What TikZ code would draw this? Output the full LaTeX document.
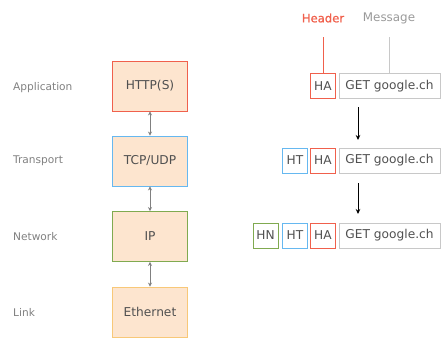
\documentclass[tikz,border=0pt]{standalone}
\usepackage{fontspec}
\setmainfont{DejaVu Sans}
\newfontfamily\hdrfont[FakeBold=1.2]{DejaVu Sans}
\usetikzlibrary{arrows.meta}
\definecolor{fillc}{HTML}{FDE5CF}
\definecolor{redc}{HTML}{F0604C}
\definecolor{bluec}{HTML}{66B8F0}
\definecolor{greenc}{HTML}{80AA50}
\definecolor{orangec}{HTML}{F8C878}
\definecolor{txt}{HTML}{505050}
\definecolor{lbl}{HTML}{808080}
\definecolor{msgc}{HTML}{C8C8C8}
\tikzset{
  layer/.style={draw=#1, fill=fillc, line width=0.9pt, minimum width=75pt, minimum height=50pt, inner sep=0pt, text=txt, font=\fontsize{12.2}{14}\selectfont},
  lname/.style={anchor=west, text=lbl, font=\fontsize{10.6}{12}\selectfont, inner sep=0pt},
  hdr/.style={draw=#1, line width=0.9pt, minimum width=25pt, minimum height=25pt, inner sep=0pt, text=txt, font=\fontsize{12.2}{14}\selectfont},
  msg/.style={draw=msgc, line width=0.9pt, minimum width=101pt, minimum height=25pt, inner sep=0pt, text=txt, font=\fontsize{12.2}{14}\selectfont},
  dbl/.style={{Stealth[length=4pt,width=4pt]}-{Stealth[length=4pt,width=4pt]}, draw=gray, line width=0.8pt},
  down/.style={-{Stealth[length=5pt,width=4.5pt]}, draw=black, line width=0.8pt}
}
\begin{document}
\begin{tikzpicture}[x=1pt,y=-1pt]
\useasboundingbox (0,0) rectangle (441,338);
% layers
\node[layer=redc] (http) at (150,86) {HTTP(S)};
\node[layer=bluec] (tcp) at (150,161) {TCP/UDP};
\node[layer=greenc] (ip) at (150,236.5) {IP};
\node[layer=orangec] (eth) at (150,312) {Ethernet};
\draw[dbl] (http.south) -- (tcp.north);
\draw[dbl] (tcp.south) -- (ip.north);
\draw[dbl] (ip.south) -- (eth.north);
% layer names
\node[lname] (l1) at (13,88) {Application};
\node[lname] (l2) at (13,161) {Transport};
\node[lname] (l3) at (13,237) {Network};
\node[lname] (l4) at (13,312) {Link};
% row 1
\node[hdr=redc] (ha1) at (323,86) {HA};
\node[msg] (m1) at (389.5,86) {GET google.ch};
% row 2
\node[hdr=bluec] (ht2) at (295,160.5) {HT};
\node[hdr=redc] (ha2) at (323,160.5) {HA};
\node[msg] (m2) at (389.5,160.5) {GET google.ch};
% row 3
\node[hdr=greenc] (hn3) at (265.5,235.5) {HN};
\node[hdr=bluec] (ht3) at (295,235.5) {HT};
\node[hdr=redc] (ha3) at (323,235.5) {HA};
\node[msg] (m3) at (389.5,235.5) {GET google.ch};
% titles
\node[text=redc, font=\hdrfont\fontsize{11.6}{13}\selectfont, inner sep=1pt] (hdrl) at (323,18) {Header};
\node[text=lbl!80, font=\fontsize{11.9}{13}\selectfont, inner sep=1pt] (msgl) at (389,18) {Message};
\coordinate (hl) at (323,37);
\coordinate (ml) at (389,37);
\draw[redc, line width=0.9pt] (hl) -- (ha1.north);
\draw[msgc, line width=0.9pt] (ml) -- (m1.north -| ml);
% arrows
\coordinate (a1s) at (358,107);
\coordinate (a1e) at (358,140);
\coordinate (a2s) at (358,183);
\coordinate (a2e) at (358,214);
\draw[down] (a1s) -- (a1e);
\draw[down] (a2s) -- (a2e);
\end{tikzpicture}
\end{document}
